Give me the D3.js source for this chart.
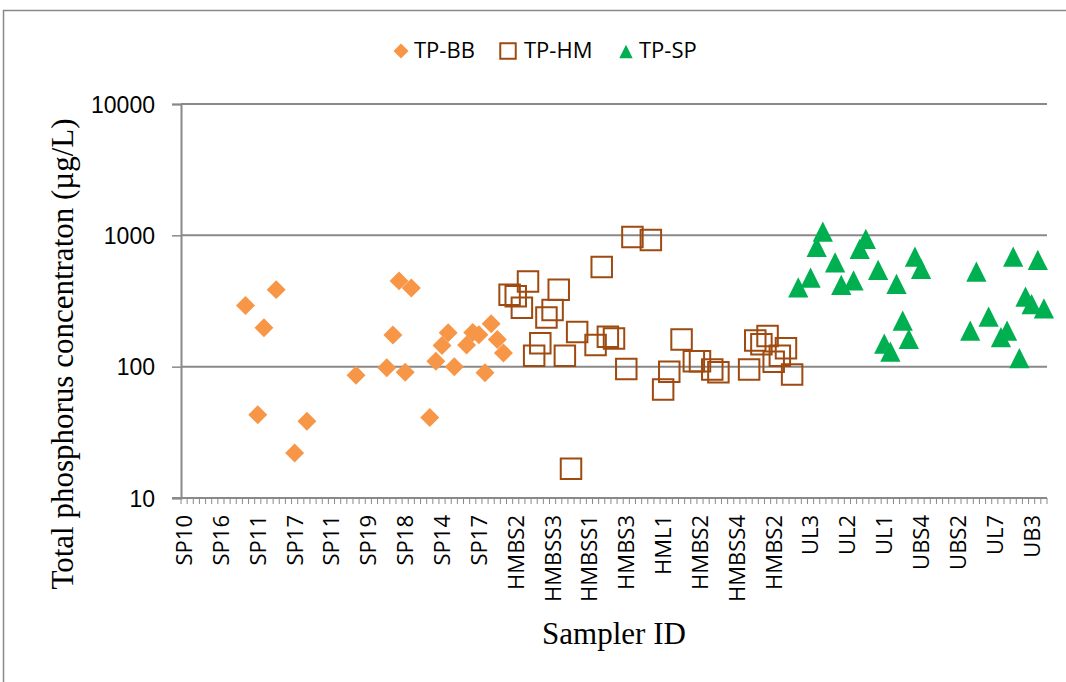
<!DOCTYPE html>
<html><head><meta charset="utf-8">
<script src="https://cdn.jsdelivr.net/npm/d3@7"></script>
<style>
html,body{margin:0;padding:0;background:#fff;}
svg{display:block;}
</style></head>
<body>
<svg id="chart" width="1066" height="682"></svg>
<script>
// ---- data ----
const nCategories = 141;
const labelInterval = 6;
const tickLabels = ["SP10","SP16","SP11","SP17","SP11","SP19","SP18","SP14","SP17","HMBS2","HMBSS3","HMBSS1","HMBS3","HML1","HMBS2","HMBSS4","HMBS2","UL3","UL2","UL1","UBS4","UBS2","UL7","UB3"];
const yTicks = [10, 100, 1000, 10000];

const bbSlots  = [10,12,13,15,18,20,28,33,34,35,36,37,40,41,42,43,44,46,47,48,49,50,51,52];
const bbValues = [292,43,198,386,22,38.4,86,98,174,450,90.6,397,41,110,145,181,100,146,182,175,90,212,161,127];

const hmSlots  = [53,54,55,56,57,58,59,60,61,62,63,64,67,68,69,70,72,73,76,78,79,81,83,84,86,87,92,93,94,95,96,97,98,99];
const hmValues = [353,343,281,446,121,151,237,270,386,121,16.7,184,146,574,169,164,96,972,923,67,91.6,161,110,110,95,90.5,95,158,148,171,109,121,138,87];

const spSlots  = [100,102,103,104,106,107,109,110,111,113,114,115,116,117,118,119,120,128,129,131,133,134,135,136,137,138,139,140];
const spValues = [402,476,816,1067,623,419,454,788,939,545,150,130,427,224,163,688,555,188,529,240,168,188,688,116,341,300,650,278];

const seriesNames = ["TP-BB","TP-HM","TP-SP"];

// ---- layout ----
const svg = d3.select("#chart");
const L = 181, R = 1047, T = 104, B = 498;
const gray = "#898989";
const cBB = "#F79646", cHM = "#9E4A10", cSP = "#00B050";

// outer border
svg.append("rect").attr("x",3.5).attr("y",10.5).attr("width",1100).attr("height",700)
  .attr("fill","none").attr("stroke",gray).attr("stroke-width",1.5);

const x = d3.scaleBand().domain(d3.range(nCategories)).range([L, R]).paddingInner(0).paddingOuter(0);
const y = d3.scaleLog().domain([10, 10000]).range([B, T]);

// gridlines
svg.append("g").selectAll("line").data(yTicks.slice(1)).join("line")
  .attr("x1", L).attr("x2", R).attr("y1", d => y(d)).attr("y2", d => y(d))
  .attr("stroke", gray).attr("stroke-width", 2);

// y axis
const yAxis = svg.append("g").attr("transform", `translate(${L},0)`)
  .call(d3.axisLeft(y).tickValues(yTicks).tickFormat(d3.format("d")).tickSize(9).tickPadding(17));
yAxis.select(".domain").attr("stroke", gray).attr("stroke-width", 2);
yAxis.selectAll(".tick line").attr("stroke", gray).attr("stroke-width", 1.5);
yAxis.selectAll(".tick text").attr("font-family", "'Liberation Sans', Arial, sans-serif")
  .attr("font-size", 23).attr("fill", "#000").attr("dy", "0.35em");

// x axis line
svg.append("line").attr("x1", L - 9).attr("x2", R).attr("y1", B).attr("y2", B)
  .attr("stroke", gray).attr("stroke-width", 2);
// x ticks at category boundaries
const bounds = d3.range(nCategories + 1).map(i => i < nCategories ? x(i) : x(nCategories - 1) + x.bandwidth());
svg.append("g").selectAll("line").data(bounds).join("line")
  .attr("x1", d => d).attr("x2", d => d).attr("y1", B).attr("y2", B + 6)
  .attr("stroke", gray).attr("stroke-width", 1);
// x labels
svg.append("g").selectAll("text").data(tickLabels).join("text")
  .attr("transform", (d, i) => `translate(${x(i * labelInterval) + x.bandwidth() / 2},515) rotate(-90)`)
  .attr("text-anchor", "end").attr("dy", "0.36em")
  .attr("font-family", "'Open Sans', 'Noto Sans', sans-serif").attr("font-size", 22).attr("fill", "#000")
  .text(d => d);

// axis titles
svg.append("text").attr("transform", "translate(73,354) rotate(-90)").attr("text-anchor", "middle")
  .attr("font-family", "'Liberation Serif', 'Times New Roman', serif").attr("font-size", 31).attr("fill", "#000")
  .text("Total phosphorus concentraton (µg/L)");
svg.append("text").attr("x", 614).attr("y", 644).attr("text-anchor", "middle")
  .attr("font-family", "'Liberation Serif', 'Times New Roman', serif").attr("font-size", 31).attr("fill", "#000")
  .text("Sampler ID");

// custom triangle symbol (width ~= height)
const tri = { draw(ctx, size) { const h = Math.sqrt(size); ctx.moveTo(0, -h / 2); ctx.lineTo(h / 2, h / 2); ctx.lineTo(-h / 2, h / 2); ctx.closePath(); } };

const cx = s => x(s) + x.bandwidth() / 2;
const pts = (slots, vals) => slots.map((s, i) => ({ s, v: vals[i] }));

// TP-BB diamonds
svg.append("g").selectAll("path").data(pts(bbSlots, bbValues)).join("path")
  .attr("d", d3.symbol(d3.symbolSquare, 180))
  .attr("transform", d => `translate(${cx(d.s)},${y(d.v)}) rotate(45)`)
  .attr("fill", cBB);
// TP-HM squares
svg.append("g").selectAll("path").data(pts(hmSlots, hmValues)).join("path")
  .attr("d", d3.symbol(d3.symbolSquare, 420))
  .attr("transform", d => `translate(${cx(d.s)},${y(d.v)})`)
  .attr("fill", "none").attr("stroke", cHM).attr("stroke-width", 2);
// TP-SP triangles
svg.append("g").selectAll("path").data(pts(spSlots, spValues)).join("path")
  .attr("d", d3.symbol(tri, 410))
  .attr("transform", d => `translate(${cx(d.s)},${y(d.v)})`)
  .attr("fill", cSP);

// legend
const lg = svg.append("g");
const lf = "'Open Sans', 'Noto Sans', sans-serif";
lg.append("path").attr("d", d3.symbol(d3.symbolSquare, 112)).attr("transform", "translate(401,51) rotate(45)").attr("fill", cBB);
lg.append("text").attr("x", 414).attr("y", 58).attr("font-family", lf).attr("font-size", 22).text(seriesNames[0]);
lg.append("path").attr("d", d3.symbol(d3.symbolSquare, 240)).attr("transform", "translate(508,51)").attr("fill", "none").attr("stroke", cHM).attr("stroke-width", 2);
lg.append("text").attr("x", 524).attr("y", 58).attr("font-family", lf).attr("font-size", 22).text(seriesNames[1]);
lg.append("path").attr("d", d3.symbol(tri, 180)).attr("transform", "translate(626,51.5)").attr("fill", cSP);
lg.append("text").attr("x", 639).attr("y", 58).attr("font-family", lf).attr("font-size", 22).text(seriesNames[2]);
</script>
</body></html>
